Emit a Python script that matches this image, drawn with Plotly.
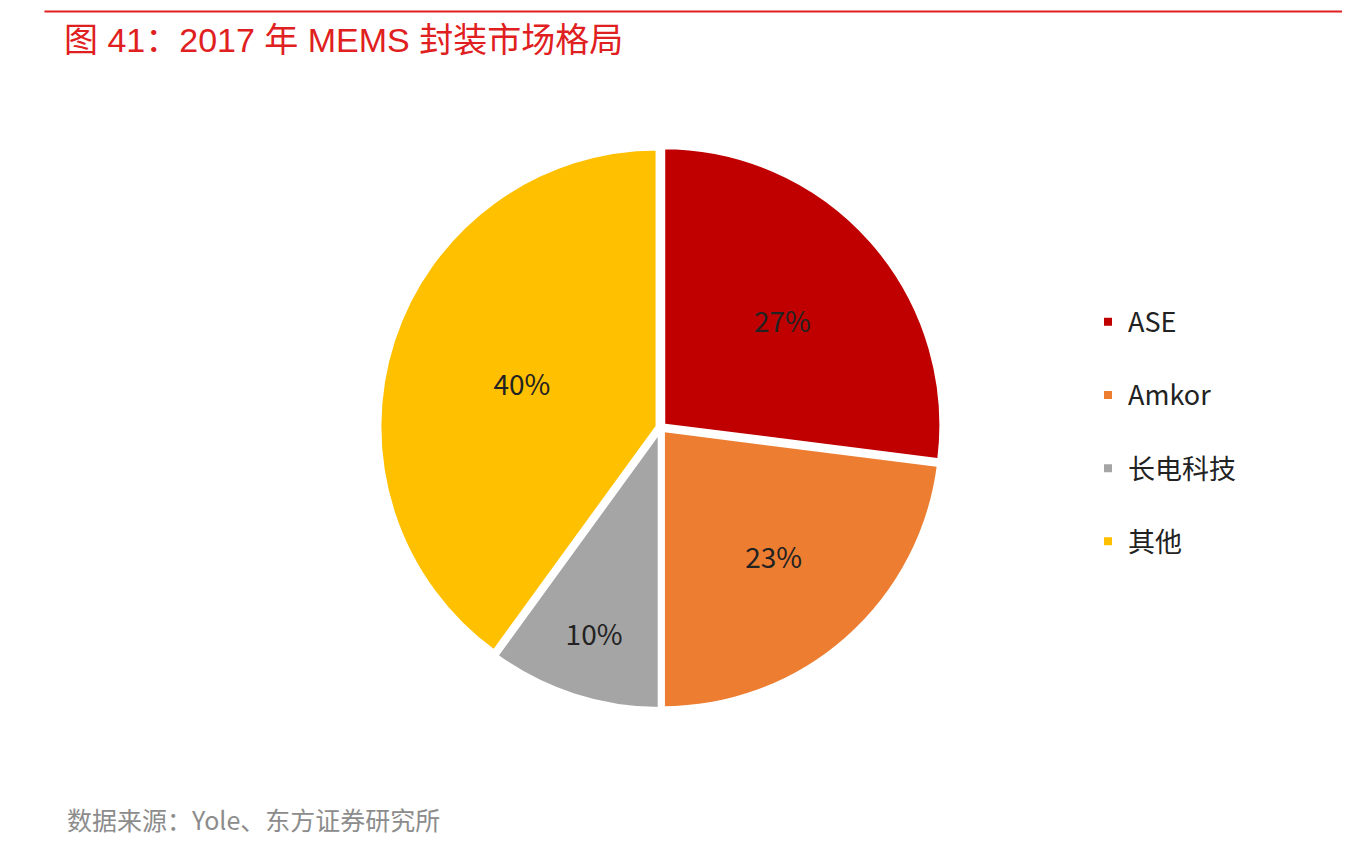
import plotly.graph_objects as go

labels = ["ASE", "Amkor", "长电科技", "其他"]
shares = [27, 23, 10, 40]
colors = ["#C00000", "#ED7D31", "#A5A5A5", "#FFC000"]

fig = go.Figure()
fig.add_trace(go.Pie(
    labels=[l + "<br> " for l in labels], values=shares, sort=False, direction="clockwise", rotation=0,
    marker=dict(colors=colors, line=dict(color="white", width=4)),
    pull=0.012,
    texttemplate="%{value}%", textposition="inside", insidetextorientation="horizontal",
    textfont=dict(size=28, color="#222222", family="Noto Sans CJK SC"),
    domain=dict(x=[0.275, 0.692], y=[0.175, 0.84]),
    hovertemplate="%{value}%<extra></extra>",
))

fig.update_layout(
    width=1350, height=852,
    margin=dict(l=0, r=0, t=0, b=0),
    paper_bgcolor="white", plot_bgcolor="white",
    font=dict(family="Noto Sans CJK SC"),
    legend=dict(x=0.8, y=0.66, xanchor="left", yanchor="top", valign="top",
                font=dict(size=27, color="#222222"), itemwidth=30),
    shapes=[dict(type="line", xref="paper", yref="paper", x0=0.027, x1=1, y0=0.996, y1=0.996,
                 line=dict(color="#E02020", width=2))],
    annotations=[
        dict(text="图 41：2017 年 MEMS 封装市场格局", xref="paper", yref="paper",
             x=0.04, y=0.962, xanchor="left", yanchor="middle", showarrow=False,
             font=dict(size=34, color="#E02020", family="Liberation Sans, Noto Sans CJK SC")),
        dict(text="数据来源：Yole、东方证券研究所", xref="paper", yref="paper",
             x=0.042, y=0.048, xanchor="left", yanchor="middle", showarrow=False,
             font=dict(size=25, color="#8C8C8C")),
    ],
)

fig.write_html("out.html")
